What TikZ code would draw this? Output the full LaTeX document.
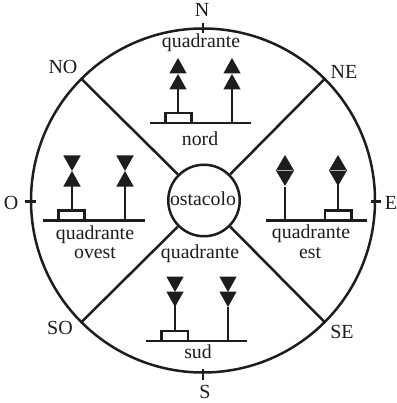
\documentclass[tikz,border=0pt]{standalone}
\usepackage{fontspec}
\setmainfont{Liberation Serif}
\definecolor{ink}{RGB}{30,28,29}
\tikzset{
  ring/.style={draw=ink,line width=2.5pt},
  ruleline/.style={draw=ink,line width=2.3pt},
  boxy/.style={draw=ink,line width=2.3pt,fill=white},
  solidmark/.style={fill=ink,draw=none},
  lab/.style={font=\fontsize{19.8pt}{20pt}\selectfont,text=ink,inner sep=0pt,anchor=base},
  dir/.style={lab,font=\fontsize{20pt}{20pt}\selectfont}
}
\newcommand{\upt}[2]{\path[solidmark] (#1,#2) -- (#1+8.7,#2+15.5) -- (#1-8.7,#2+15.5) -- cycle;}
\newcommand{\dnt}[2]{\path[solidmark] (#1,#2) -- (#1+8.7,#2-15.5) -- (#1-8.7,#2-15.5) -- cycle;}
\newcommand{\dmd}[1]{\path[solidmark] (#1,155) -- (#1+9,170.5) -- (#1,186) -- (#1-9,170.5) -- cycle;
  \draw[white!70!black,line width=.9pt] (#1-8,170.5) -- (#1+8,170.5);}
\begin{document}
\begin{tikzpicture}[x=1pt,y=-1pt]
\useasboundingbox (0,0) rectangle (396,403);
\coordinate (c) at (203,200.5);
% outer ring, centre circle
\draw[ring] (c) circle[radius=172];
\coordinate (oNW) at (81,78.5); \coordinate (oNE) at (325,78.5);
\coordinate (oSW) at (81,322.5); \coordinate (oSE) at (325,322.5);
\node[circle,draw=ink,line width=2.5pt,minimum size=71.5pt,inner sep=0pt] (ost) at (204,200.5) {};
\node[lab] (ostt) at (203,205) {ostacolo};
\draw[ring] (oNW) -- (ost.135);
\draw[ring] (oNE) -- (ost.45);
\draw[ring] (oSW) -- (ost.225);
\draw[ring] (oSE) -- (ost.315);
% ticks
\coordinate (tN1) at (203,23); \coordinate (tN2) at (203,33);
\coordinate (tS1) at (203,369); \coordinate (tS2) at (203,380);
\coordinate (tO1) at (25,201.5); \coordinate (tO2) at (36,201.5);
\coordinate (tE1) at (371,201.5); \coordinate (tE2) at (381,201.5);
\draw[ruleline] (tN1)--(tN2); \draw[ruleline] (tS1)--(tS2);
\draw[ruleline] (tO1)--(tO2); \draw[ruleline] (tE1)--(tE2);
% compass labels
\node[dir] (lN) at (202,17) {N};
\node[dir] (lS) at (205,398) {S};
\node[dir] (lO) at (11,209) {O};
\node[dir] (lE) at (391,209) {E};
\node[dir] (lNO) at (63,74) {NO};
\node[dir] (lNE) at (344,79) {NE};
\node[dir] (lSO) at (60,334) {SO};
\node[dir] (lSE) at (342,338) {SE};
% north
\coordinate (nA) at (150,123); \coordinate (nB) at (251,123);
\draw[ruleline] (nA)--(nB);
\draw[ruleline] (178,123)--(178,88); \draw[ruleline] (232,123)--(232,88);
\upt{178}{58} \upt{178}{74} \upt{232}{58} \upt{232}{74}
\draw[boxy] (165.5,113)  rectangle (191.5,123);
\node[lab] (qn) at (201,47.5) {quadrante};
\node[lab] (nn) at (200,145.5) {nord};
% west
\draw[ruleline] (43,220.5)--(145,220.5);
\draw[ruleline] (72,220.5)--(72,185); \draw[ruleline] (125,220.5)--(125,185);
\dnt{72}{171} \upt{72}{171} \dnt{125}{171} \upt{125}{171}
\draw[boxy] (58.5,210.5) rectangle (84.5,220.5);
\node[lab] (qo) at (95,239) {quadrante};
\node[lab] (no) at (95,258) {ovest};
% east
\draw[ruleline] (266,220.5)--(367,220.5);
\draw[ruleline] (285,220.5)--(285,187); \draw[ruleline] (338,220.5)--(338,185);
\dmd{285} \dmd{338}
\draw[boxy] (325,210.5) rectangle (351.5,220.5);
\node[lab] (qe) at (311,238) {quadrante};
\node[lab] (ne) at (310,258) {est};
% south
\draw[ruleline] (146,341)--(247,341);
\draw[ruleline] (175,341)--(175,305); \draw[ruleline] (228,341)--(228,307);
\dnt{175}{292} \dnt{175}{307} \dnt{228}{292} \dnt{228}{307}
\draw[boxy] (161.5,331) rectangle (188,341);
\node[lab] (qs) at (200,258) {quadrante};
\node[lab] (ns) at (198,358) {sud};
\end{tikzpicture}
\end{document}
